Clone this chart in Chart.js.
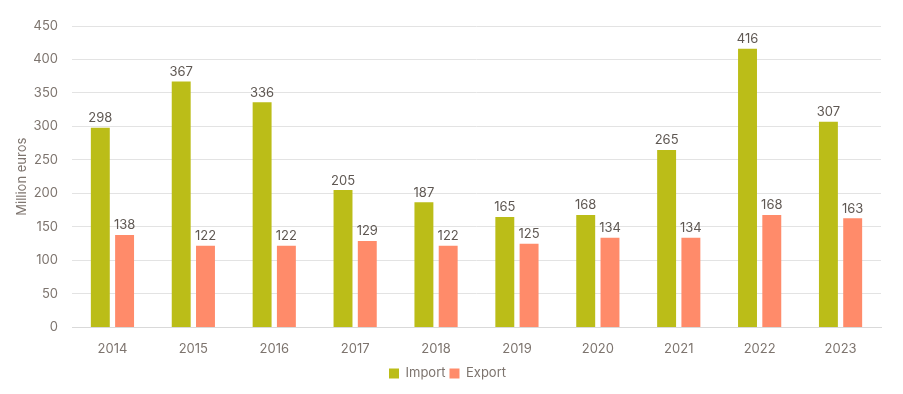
<!DOCTYPE html>
<html>
<head>
<meta charset="utf-8">
<script src="https://cdn.jsdelivr.net/npm/chart.js@4"></script>
<style>
  html, body { margin: 0; padding: 0; background: #fff; }
  #wrap { width: 903px; height: 394px; position: relative; }
</style>
</head>
<body>
<div id="wrap"><canvas id="myChart"></canvas></div>
<script>
// datos
const years = ['2014', '2015', '2016', '2017', '2018', '2019', '2020', '2021', '2022', '2023'];
const importValues = [298, 367, 336, 205, 187, 165, 168, 265, 416, 307];
const exportValues = [138, 122, 122, 129, 122, 125, 134, 134, 168, 163];
const yTicks = [0, 50, 100, 150, 200, 250, 300, 350, 400, 450];

// etiquetas encima de cada barra
const barLabels = {
    id: 'barLabels',
    afterDatasetsDraw(chart) {
        const ctx = chart.ctx;
        ctx.save();
        ctx.font = '13px Inter, "Open Sans", sans-serif';
        ctx.fillStyle = '#5f5853';
        ctx.textAlign = 'center';
        ctx.textBaseline = 'bottom';
        chart.data.datasets.forEach((ds, i) => {
            chart.getDatasetMeta(i).data.forEach((bar, j) => {
                ctx.fillText(ds.data[j], bar.x, bar.y - 3);
            });
        });
        ctx.restore();
    }
};

Chart.defaults.font.family = 'Inter, "Open Sans", sans-serif';
Chart.defaults.font.size = 13;
Chart.defaults.color = '#7d746e';

var ctx = document.getElementById('myChart');
var myChart = new Chart(ctx, {
    type: 'bar',
    data: {
        labels: years,
        datasets: [{
            label: 'Import',
            data: importValues,
            backgroundColor: '#BBBD18'
        }, {
            label: 'Export',
            data: exportValues,
            backgroundColor: '#FF8B6A'
        }]
    },
    options: {
        responsive: true,
        maintainAspectRatio: false,
        animation: false,
        layout: { padding: { left: 14, right: 22, top: 26, bottom: 4 } },
        datasets: {
            bar: { categoryPercentage: 0.6, barPercentage: 0.78 }
        },
        scales: {
            x: {
                grid: { display: false },
                border: { display: true, color: '#d9d9d9' },
                ticks: { padding: 6 }
            },
            y: {
                min: 0,
                max: 450,
                afterBuildTicks: axis => { axis.ticks = yTicks.map(v => ({ value: v })); },
                afterFit: axis => { axis.width = 58; },
                grid: { color: '#e3e3e3', drawTicks: false },
                border: { display: false },
                ticks: { padding: 14 },
                title: { display: true, text: 'Million euros', padding: { top: 0, bottom: 0 } }
            }
        },
        plugins: {
            legend: {
                position: 'bottom',
                labels: { boxWidth: 10, boxHeight: 10, padding: 4 }
            },
            tooltip: { enabled: false }
        }
    },
    plugins: [barLabels]
});
</script>
</body>
</html>
